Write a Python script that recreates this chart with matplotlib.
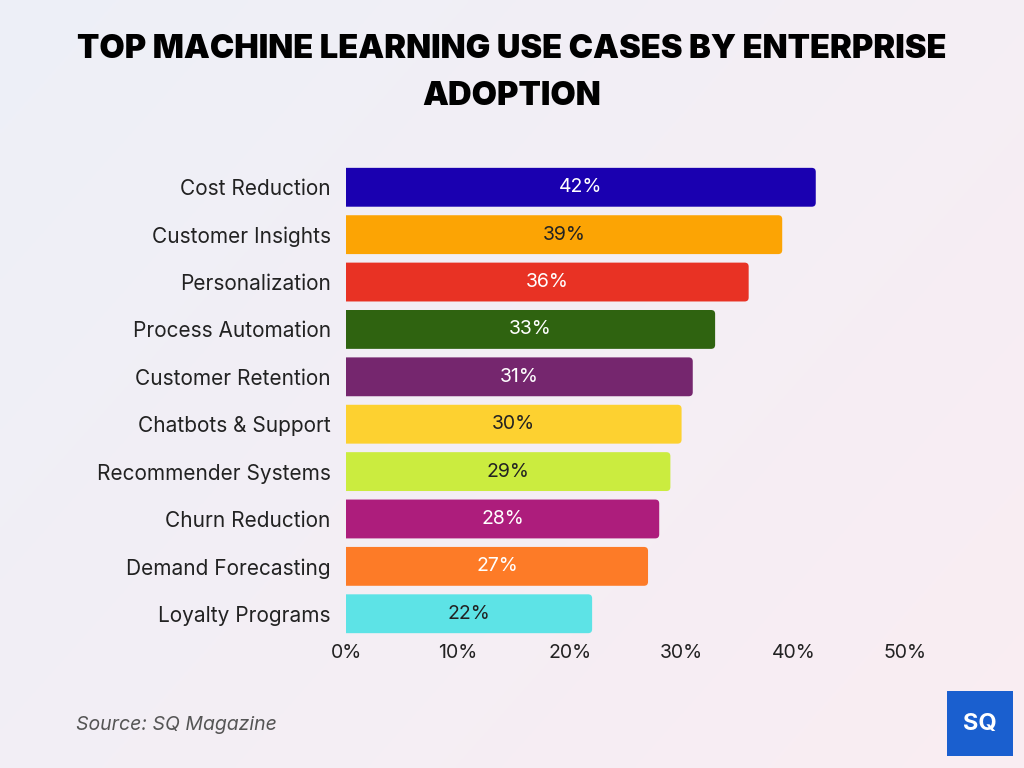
import numpy as np
import matplotlib.pyplot as plt
from matplotlib.patches import FancyBboxPatch

categories = ['Cost Reduction', 'Customer Insights', 'Personalization', 'Process Automation',
              'Customer Retention', 'Chatbots & Support', 'Recommender Systems',
              'Churn Reduction', 'Demand Forecasting', 'Loyalty Programs']
values = [42, 39, 36, 33, 31, 30, 29, 28, 27, 22]
colors = ['#1a00b0', '#fca404', '#e83224', '#2f6310', '#75266e',
          '#fdd130', '#cbec3f', '#ad1d7c', '#fd7b27', '#5de3e6']
label_colors = ['white', '#222222', 'white', 'white', 'white',
                '#222222', '#222222', 'white', 'white', '#222222']
ticks = [0, 10, 20, 30, 40, 50]

plt.rcParams['font.family'] = ['Inter', 'DejaVu Sans']

fig = plt.figure(figsize=(10.24, 7.68), dpi=100)

# background gradient
bg = fig.add_axes([0, 0, 1, 1], zorder=-10)
gx = np.linspace(0, 1, 256)
gy = np.linspace(0, 1, 256)
X, Y = np.meshgrid(gx, gy)
t = np.clip(0.6 * X + 0.4 * (1 - Y), 0, 1)
c1 = np.array([0.93, 0.94, 0.97])
c2 = np.array([0.98, 0.93, 0.95])
img = c1[None, None, :] * (1 - t[..., None]) + c2[None, None, :] * t[..., None]
bg.imshow(img, aspect='auto', extent=[0, 1, 0, 1], origin='lower')
bg.axis('off')

ax = fig.add_axes([0.338, 0.17, 0.546, 0.617])
ax.set_facecolor('none')
ax.set_ylim(len(categories) - 0.5, -0.5)
ax.set_xlim(0, 50)

y = np.arange(len(categories))
bar_h = 0.82
# rounded right corners only: start the box left of the axes, it gets clipped
xpp = 50 / (0.546 * 1024)
ypp = 10 / (0.617 * 768)
asp = ypp / xpp
r = 4 * xpp
for i, (v, c) in enumerate(zip(values, colors)):
    ax.add_patch(FancyBboxPatch((-2, i - bar_h / 2), v + 2, bar_h,
                                boxstyle=f'round,pad=0,rounding_size={r}',
                                mutation_aspect=asp, fc=c, ec='none'))
    ax.text(v / 2, i, f'{v}%', ha='center', va='center', fontsize=14,
            color=label_colors[i])

ax.set_yticks(y)
ax.set_yticklabels(categories, fontsize=15, color='#222222')
ax.set_xticks(ticks)
ax.set_xticklabels([f'{t}%' for t in ticks], fontsize=14, color='#222222')
ax.tick_params(axis='y', length=0, pad=11)
ax.tick_params(axis='x', length=0, pad=5)
for s in ax.spines.values():
    s.set_visible(False)

fig.text(0.5, 0.935, 'TOP MACHINE LEARNING USE CASES BY ENTERPRISE', ha='center',
         va='center', fontsize=23.5, fontweight='black', color='black')
fig.text(0.5, 0.874, 'ADOPTION', ha='center', va='center', fontsize=23.5,
         fontweight='black', color='black')

fig.text(0.074, 0.056, 'Source: SQ Magazine', fontsize=14, style='italic',
         color='#555555', va='center')

# logo
lax = fig.add_axes([0.925, 0.015, 0.064, 0.085])
lax.add_patch(FancyBboxPatch((0, 0), 1, 1, boxstyle='square,pad=0',
                             color='#1a5fcf', transform=lax.transAxes))
lax.text(0.5, 0.5, 'SQ', ha='center', va='center', color='white',
         fontsize=17, fontweight='bold')
lax.axis('off')

fig.savefig('out.png', dpi=100)
